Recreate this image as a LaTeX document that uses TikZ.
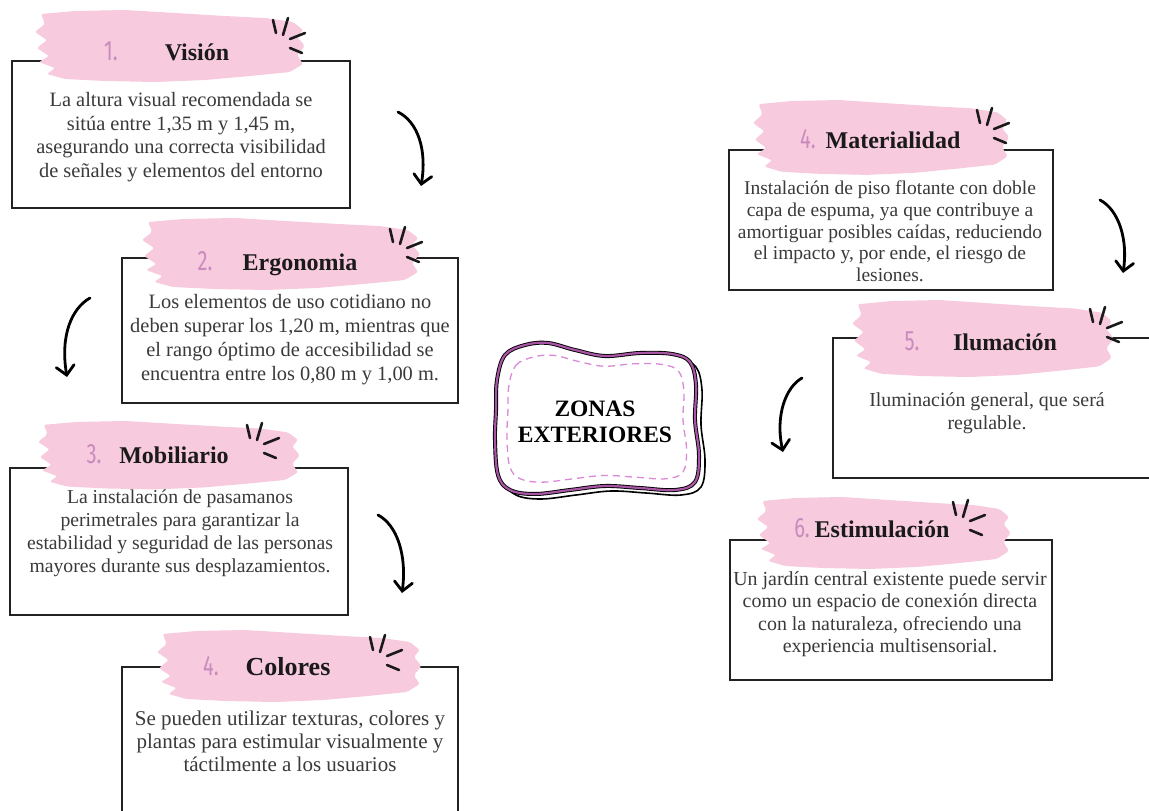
\documentclass[tikz,border=0pt]{standalone}
\usepackage{fontspec}
\setmainfont{Liberation Serif}
\newfontfamily\numfont[FakeStretch=0.72]{Fira Sans}
\usetikzlibrary{arrows.meta}
\definecolor{brushpink}{HTML}{F7CADD}
\definecolor{numpink}{HTML}{C98BBE}
\definecolor{boxline}{HTML}{222222}
\definecolor{bodytxt}{HTML}{3A3A3A}
\definecolor{titletxt}{HTML}{1A1A1A}
\definecolor{blobpurple}{HTML}{A855A5}
\definecolor{dashpink}{HTML}{D98AD6}
\tikzset{
  cardbox/.style={draw=boxline, line width=1.8pt, inner sep=0pt},
  bodytext/.style={text=bodytxt, align=center, inner sep=0pt, anchor=center},
  titletext/.style={text=titletxt, font=\bfseries\fontsize{24}{28}\selectfont, anchor=base, inner sep=0pt},
  numtext/.style={text=numpink, font=\numfont\fontsize{28}{30}\selectfont, anchor=base, inner sep=0pt},
  curvearrow/.style={draw=black, line width=2.8pt, line cap=round, -{Straight Barb[length=9pt,width=18pt,line cap=round]}},
  brush/.pic={
    \fill[brushpink, rounded corners=2pt] (6,4) -- (40,1) -- (90,0) -- (140,3) -- (190,6) -- (230,8) -- (258,12) -- (268,20) -- (262,27) -- (270,36) -- (262,45) -- (268,54) -- (255,62) -- (215,66) -- (170,70) -- (120,72) -- (70,71) -- (30,69) -- (12,64) -- (20,58) -- (4,52) -- (14,46) -- (2,38) -- (12,30) -- (0,22) -- (10,14) -- cycle;
  },
  sparkle/.pic={
    \draw[line width=2.6pt, line cap=round, titletxt] (0,2) -- (3,15) (15,0) -- (10,17) (17,21) -- (32,15) (17,30) -- (29,35);
  },
  blob/.pic={
    \path[pic actions] plot[smooth cycle, tension=0.6] coordinates {(-98,-40) (-90,-65) (-70,-75) (-47,-77) (-20,-70) (10,-64) (45,-67) (77,-66) (95,-58) (101,-35) (100,0) (104,35) (100,62) (80,70) (45,68) (10,66) (-25,70) (-60,74) (-85,70) (-97,55) (-100,20) (-99,-10)};
  }
}
\begin{document}
\begin{tikzpicture}[x=1pt, y=-1pt]
\fill[white] (0,0) rectangle (1149,811);
\useasboundingbox (0,0) rectangle (1149,811);
\clip (0,0) rectangle (1149,811);

% ---------- cards (boxes) ----------
\node[cardbox, minimum width=338pt, minimum height=147pt] (card1) at (181,134.5) {};
\node[cardbox, minimum width=336pt, minimum height=145pt] (card2) at (290,330.5) {};
\node[cardbox, minimum width=338pt, minimum height=147pt] (card3) at (179,541.5) {};
\node[cardbox, minimum width=336pt, minimum height=170pt] (card4) at (290,752) {};
\node[cardbox, minimum width=324pt, minimum height=140pt] (card5) at (891,220) {};
\node[cardbox, minimum width=340pt, minimum height=140pt] (card6) at (1003,408) {};
\node[cardbox, minimum width=322pt, minimum height=140pt] (card7) at (891,610) {};

% ---------- brush strokes ----------
\pic at (35,10) {brush};
\pic[xscale=1.03] at (142,218) {brush};
\pic[xscale=0.97, yscale=0.95] at (38,421) {brush};
\pic[xscale=0.98] at (157,630) {brush};
\pic[xscale=0.95, yscale=1.04] at (753,100) {brush};
\pic[xscale=0.97, yscale=1.07] at (852,300) {brush};
\pic[xscale=0.94] at (757,497) {brush};

% ---------- sparkles ----------
\pic at (273,18) {sparkle};
\pic at (390,227) {sparkle};
\pic at (247,423) {sparkle};
\pic at (370,635) {sparkle};
\pic at (977,108) {sparkle};
\pic at (1090,307) {sparkle};
\pic at (953,500) {sparkle};

% ---------- titles ----------
\node[numtext] (n1) at (111,60) {1.};
\node[titletext] (t1) at (197,60) {Visión};
\node[numtext] (n2) at (205,270) {2.};
\node[titletext] (t2) at (300,270) {Ergonomia};
\node[numtext] (n3) at (94,463) {3.};
\node[titletext] (t3) at (174,463) {Mobiliario};
\node[numtext] (n4) at (211,675) {4.};
\node[titletext, font=\bfseries\fontsize{26}{30}\selectfont] (t4) at (288,675) {Colores};
\node[numtext] (n5) at (808,148) {4.};
\node[titletext] (t5) at (893,148) {Materialidad};
\node[numtext] (n6) at (912,350) {5.};
\node[titletext] (t6) at (1005,350) {Ilumación};
\node[numtext] (n7) at (802,537) {6.};
\node[titletext] (t7) at (882,537) {Estimulación};

% ---------- body texts ----------
\node[bodytext, font=\fontsize{20.4}{23.5}\selectfont] (x1) at (181,137) {La altura visual recomendada se\\ sitúa entre 1,35 m y 1,45 m,\\ asegurando una correcta visibilidad\\ de señales y elementos del entorno};
\node[bodytext, font=\fontsize{20.4}{24}\selectfont] (x2) at (290,340) {Los elementos de uso cotidiano no\\ deben superar los 1,20 m, mientras que\\ el rango óptimo de accesibilidad se\\ encuentra entre los 0,80 m y 1,00 m.};
\node[bodytext, font=\fontsize{19.7}{23}\selectfont] (x3) at (180,533) {La instalación de pasamanos\\ perimetrales para garantizar la\\ estabilidad y seguridad de las personas\\ mayores durante sus desplazamientos.};
\node[bodytext, font=\fontsize{21}{23}\selectfont] (x4) at (290,741) {Se pueden utilizar texturas, colores y\\ plantas para estimular visualmente y\\ táctilmente a los usuarios};
\node[bodytext, font=\fontsize{19.5}{21.7}\selectfont] (x5) at (890,231.5) {Instalación de piso flotante con doble\\ capa de espuma, ya que contribuye a\\ amortiguar posibles caídas, reduciendo\\ el impacto y, por ende, el riesgo de\\ lesiones.};
\node[bodytext, font=\fontsize{19.9}{23}\selectfont] (x6) at (987,413) {Iluminación general, que será\\ regulable.};
\node[bodytext, font=\fontsize{19.9}{22.5}\selectfont] (x7) at (890,614) {Un jardín central existente puede servir\\ como un espacio de conexión directa\\ con la naturaleza, ofreciendo una\\ experiencia multisensorial.};

% ---------- centre shape ----------
\pic[draw=black, line width=1.6pt, fill=white] at (601,425) {blob};
\pic[draw=black, line width=4pt, fill=white] at (595,420) {blob};
\pic[draw=blobpurple, line width=2.2pt] at (595,420) {blob};
\pic[draw=dashpink, line width=1.3pt, dash pattern=on 7pt off 5pt, xscale=0.88, yscale=0.84] at (595,420) {blob};
\node[font=\bfseries\fontsize{23.5}{26}\selectfont, align=center, inner sep=0pt] (centre) at (595,422) {ZONAS\\EXTERIORES};

% ---------- arrows ----------
\coordinate (a1s) at (398,112); \coordinate (a1e) at (421,186);
\coordinate (a2s) at (90,298);  \coordinate (a2e) at (67,377);
\coordinate (a3s) at (378,515); \coordinate (a3e) at (402,593);
\coordinate (a4s) at (1100,200); \coordinate (a4e) at (1123,273);
\coordinate (a5s) at (802,378); \coordinate (a5e) at (783,452);
\draw[curvearrow] (a1s) .. controls (418,122) and (427,150) .. (a1e);
\draw[curvearrow] (a2s) .. controls (72,308) and (60,335) .. (a2e);
\draw[curvearrow] (a3s) .. controls (397,525) and (407,555) .. (a3e);
\draw[curvearrow] (a4s) .. controls (1119,210) and (1128,240) .. (a4e);
\draw[curvearrow] (a5s) .. controls (786,387) and (775,415) .. (a5e);
\end{tikzpicture}
\end{document}
